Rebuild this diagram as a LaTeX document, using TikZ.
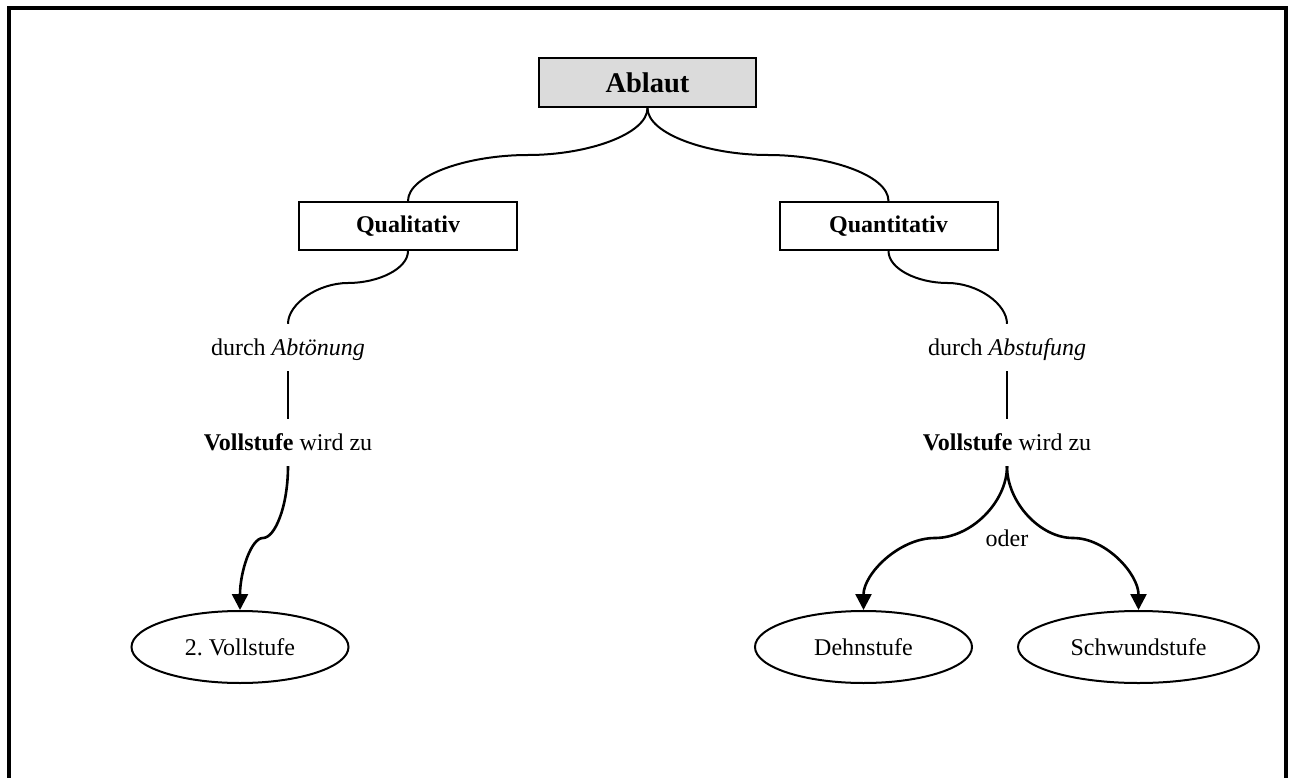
\documentclass[tikz,border=0pt]{standalone}
\usepackage{fontspec}
\setmainfont{Liberation Serif}
\usetikzlibrary{arrows.meta,shapes.geometric}

\tikzset{
  titlebox/.style={draw, line width=2pt, fill=black!14, minimum width=217pt, minimum height=49pt,
    inner sep=0pt, font=\fontsize{28.5}{32}\selectfont\bfseries},
  kindbox/.style={draw, line width=2pt, minimum width=218pt, minimum height=48pt,
    inner sep=0pt, font=\fontsize{24}{28}\selectfont\bfseries},
  label/.style={inner sep=0pt, anchor=base, text height=31pt, text depth=16pt,
    font=\fontsize{24}{28}\selectfont},
  stage/.style={draw, ellipse, line width=2pt, minimum height=72pt, inner sep=0pt,
    font=\fontsize{24}{28}\selectfont},
  link/.style={line width=2pt},
  pointer/.style={line width=2.6pt, -{Triangle[length=16pt,width=16pt]}},
  frame/.style={line width=4pt}
}

\begin{document}
\begin{tikzpicture}[x=1pt, y=-1pt]
\useasboundingbox (0,0) rectangle (1293,778);

% open frame round the chart
\draw[frame] (9,778) -- (9,8) -- (1286,8) -- (1286,778);

% boxes
\node[titlebox] (ablaut) at (647.5,82.5) {Ablaut};
\node[kindbox] (qual) at (408,226) {Qualitativ};
\node[kindbox] (quant) at (888.5,226) {Quantitativ};

% text labels
\node[label] (abt) at (288,355) {durch \textit{Abtönung}};
\node[label] (abst) at (1007,355) {durch \textit{Abstufung}};
\node[label] (vl) at (288,450) {\textbf{Vollstufe} wird zu};
\node[label] (vr) at (1007,450) {\textbf{Vollstufe} wird zu};
\node[inner sep=0pt, font=\fontsize{24}{28}\selectfont] (oder) at (1007,538) {oder};

% results
\node[stage, minimum width=217pt] (voll2) at (240,647) {2.\ Vollstufe};
\node[stage, minimum width=217pt] (dehn) at (863.5,647) {Dehnstufe};
\node[stage, minimum width=241pt] (schwund) at (1138.5,647) {Schwundstufe};

% bends of the curved connectors
\coordinate (ka) at (528,155);
\coordinate (kb) at (768,155);
\coordinate (kc) at (348,283);
\coordinate (kd) at (947.5,283);
\coordinate (ke) at (263,538);
\coordinate (kf) at (935,538);
\coordinate (kg) at (1073,538);

% connectors
\draw[link] (ablaut.south) .. controls +(0,26) and +(60,0) .. (ka)
  .. controls +(-60,0) and +(0,-26) .. (qual.north);
\draw[link] (ablaut.south) .. controls +(0,26) and +(-60,0) .. (kb)
  .. controls +(60,0) and +(0,-26) .. (quant.north);
\draw[link] (qual.south) .. controls +(0,18) and +(30,0) .. (kc)
  .. controls +(-30,0) and +(0,-20) .. (abt.north);
\draw[link] (quant.south) .. controls +(0,18) and +(-30,0) .. (kd)
  .. controls +(30,0) and +(0,-20) .. (abst.north);
\draw[link] (abt.south) -- (vl.north);
\draw[link] (abst.south) -- (vr.north);

\draw[pointer] (vl.south) .. controls +(0,40) and +(12,0) .. (ke)
  .. controls +(-12,0) and +(0,-38) .. (voll2.north);
\draw[pointer] (vr.south) .. controls +(0,36) and +(36,0) .. (kf)
  .. controls +(-36,0) and +(0,-36) .. (dehn.north);
\draw[pointer] (vr.south) .. controls +(0,36) and +(-33,0) .. (kg)
  .. controls +(33,0) and +(0,-36) .. (schwund.north);
\end{tikzpicture}
\end{document}
